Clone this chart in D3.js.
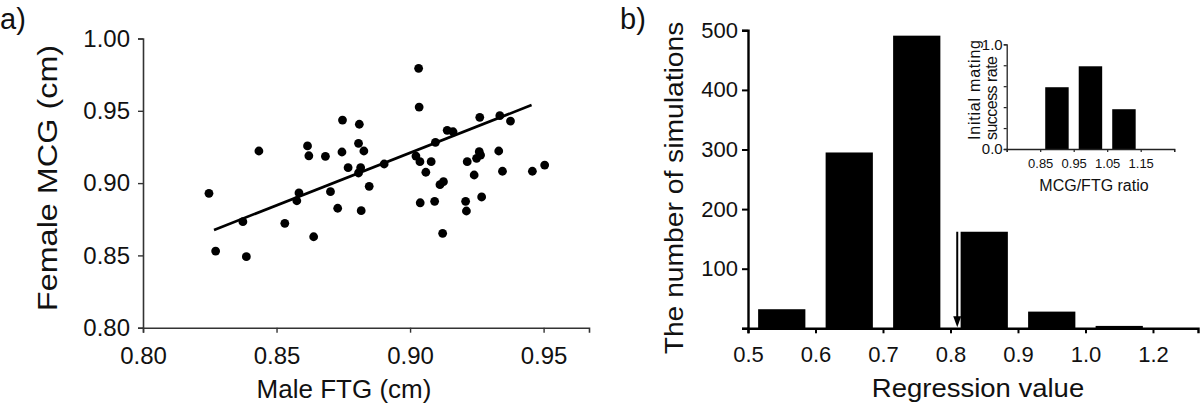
<!DOCTYPE html>
<html>
<head>
<meta charset="utf-8">
<script src="https://cdn.jsdelivr.net/npm/d3@7"></script>
<style>
  html, body { margin: 0; padding: 0; background: #fff; }
  svg { display: block; font-family: "Liberation Sans", Arial, Helvetica, sans-serif; }
</style>
</head>
<body>
<svg id="chart" width="1200" height="415"></svg>
<script>
// ---------- Panel a data: Male FTG vs Female MCG ----------
const maleFTG = [
  0.8247, 0.8272, 0.8387, 0.8434, 0.8374, 0.8531, 0.8639, 0.8616, 0.8621, 0.8584,
  0.8576, 0.8683, 0.8747, 0.8810, 0.8807, 0.8827, 0.8745, 0.8768, 0.8815, 0.8807,
  0.8903, 0.8702, 0.8847, 0.8729, 0.8817, 0.9032, 0.9034, 0.9095, 0.9139, 0.9161,
  0.9022, 0.9037, 0.9079, 0.9059, 0.9112, 0.9125, 0.9038, 0.9092, 0.9122, 0.9261,
  0.9336, 0.9376, 0.9259, 0.9264, 0.9249, 0.9214, 0.9332, 0.9240, 0.9346, 0.9458,
  0.9504, 0.9208, 0.9211, 0.9268
];
const femaleMCG = [
  0.8929, 0.8530, 0.8491, 0.9222, 0.8733, 0.8722, 0.8629, 0.9257, 0.9189, 0.8932,
  0.8878, 0.9185, 0.9436, 0.9407, 0.9275, 0.9222, 0.9215, 0.9107, 0.9107, 0.9070,
  0.9132, 0.8941, 0.8978, 0.8826, 0.8809, 0.9794, 0.9526, 0.9282, 0.9365, 0.9355,
  0.9187, 0.9148, 0.9148, 0.9075, 0.8989, 0.9010, 0.8864, 0.8874, 0.8653, 0.9455,
  0.9466, 0.9429, 0.9217, 0.9194, 0.9171, 0.9148, 0.9222, 0.9056, 0.9082, 0.9082,
  0.9125, 0.8874, 0.8807, 0.8904
];
const fitLineX = [0.8266, 0.9455];
const fitLineY = [0.8676, 0.9540];
const aXTicks = [0.80, 0.85, 0.90, 0.95];
const aYTicks = [0.80, 0.85, 0.90, 0.95, 1.00];

// ---------- Panel b data: histogram of regression values ----------
const regressionBins = [0.55, 0.65, 0.75, 0.85, 0.95, 1.05];
const simulationCounts = [32, 295, 491, 162, 28, 4];
const bXTickValues = [0.5, 0.6, 0.7, 0.8, 0.9, 1.0, 1.1];
const bXTickLabels = ["0.5", "0.6", "0.7", "0.8", "0.9", "1.0", "1.2"];
const bYTicks = [0, 100, 200, 300, 400, 500];
const observedRegression = 0.81;
const observedArrowTop = 162;

// ---------- Inset data: mating success by MCG/FTG ratio ----------
const ratioBins = [0.90, 1.00, 1.10];
const matingRates = [0.59, 0.79, 0.38];
const insetXTickValues = [0.75, 0.85, 0.95, 1.05, 1.15, 1.25];
const insetXTickLabels = ["", "0.85", "0.95", "1.05", "1.15", ""];
const insetYTicks = [0, 0.2, 0.4, 0.6, 0.8, 1.0];

const svg = d3.select("#chart");
const FONT = "'Liberation Sans', Arial, sans-serif";

// ================= Panel a =================
const xA = d3.scaleLinear().domain([0.80, 0.967]).range([143, 589]);
const yA = d3.scaleLinear().domain([0.80, 1.00]).range([327.7, 38.5]);
const gA = svg.append("g");

const axAx = gA.append("g").attr("transform", `translate(0,${yA(0.80)})`)
  .call(d3.axisBottom(xA).tickValues(aXTicks).tickFormat(d3.format(".2f")).tickSizeOuter(0).tickSize(5).tickPadding(10));
const axAy = gA.append("g").attr("transform", `translate(${xA(0.80)},0)`)
  .call(d3.axisLeft(yA).tickValues(aYTicks).tickFormat(d3.format(".2f")).tickSizeOuter(0).tickSize(5).tickPadding(8));
[axAx, axAy].forEach(g => {
  g.selectAll("path.domain").attr("stroke", "#333").attr("stroke-width", 1.6);
  g.selectAll(".tick line").attr("stroke", "#333").attr("stroke-width", 1.4);
  g.selectAll(".tick text").attr("font-size", 24).attr("fill", "#111").attr("font-family", FONT);
});
axAx.selectAll(".tick text").attr("dy", "0.9em");

gA.append("line")
  .attr("x1", xA(fitLineX[0])).attr("y1", yA(fitLineY[0]))
  .attr("x2", xA(fitLineX[1])).attr("y2", yA(fitLineY[1]))
  .attr("stroke", "#000").attr("stroke-width", 2.6);

gA.selectAll("circle.pt").data(maleFTG.map((x, i) => [x, femaleMCG[i]]))
  .join("circle").attr("class", "pt")
  .attr("cx", d => xA(d[0])).attr("cy", d => yA(d[1]))
  .attr("r", 4.4).attr("fill", "#000");

gA.append("text").attr("x", 344).attr("y", 398).attr("text-anchor", "middle")
  .attr("font-size", 26).attr("fill", "#111").text("Male FTG (cm)");
gA.append("text").attr("transform", "translate(57,178) rotate(-90) scale(1.2,1)").attr("text-anchor", "middle")
  .attr("font-size", 27).attr("fill", "#111").text("Female MCG (cm)");
gA.append("text").attr("x", 0).attr("y", 29).attr("font-size", 29).attr("fill", "#111").text("a)");

// ================= Panel b =================
const xB = d3.scaleLinear().domain([0.5, 1.1667]).range([748, 1198]);
const yB = d3.scaleLinear().domain([0, 500]).range([328.3, 30.3]);
const gB = svg.append("g");
const binW = 0.07;

gB.selectAll("rect.bar").data(regressionBins.map((b, i) => [b, simulationCounts[i]]))
  .join("rect").attr("class", "bar")
  .attr("x", d => xB(d[0] - binW / 2))
  .attr("width", d => xB(d[0] + binW / 2) - xB(d[0] - binW / 2))
  .attr("y", d => yB(d[1]))
  .attr("height", d => yB(0) - yB(d[1]))
  .attr("fill", "#000");

const bxAx = gB.append("g").attr("transform", `translate(0,${yB(0)})`)
  .call(d3.axisBottom(xB).tickValues(bXTickValues)
    .tickFormat((d, i) => bXTickLabels[i]).tickSizeOuter(0).tickSize(5).tickPadding(9));
const byAx = gB.append("g").attr("transform", `translate(${xB(0.5)},0)`)
  .call(d3.axisLeft(yB).tickValues(bYTicks).tickFormat(d => d === 0 ? "" : d)
    .tickSizeOuter(0).tickSize(6).tickPadding(4));
[bxAx, byAx].forEach(g => {
  g.selectAll("path.domain").attr("stroke", "#000").attr("stroke-width", 2.4);
  g.selectAll(".tick line").attr("stroke", "#000").attr("stroke-width", 2);
  g.selectAll(".tick text").attr("font-size", 22).attr("fill", "#111").attr("font-family", FONT);
});
bxAx.selectAll(".tick text").attr("dy", "0.9em");

// observed-value arrow
const ax = xB(observedRegression);
gB.append("line").attr("x1", ax).attr("x2", ax)
  .attr("y1", yB(observedArrowTop)).attr("y2", yB(0) - 8)
  .attr("stroke", "#000").attr("stroke-width", 2);
gB.append("path")
  .attr("d", `M${ax - 4},${yB(0) - 12} L${ax + 4},${yB(0) - 12} L${ax},${yB(0) - 1} Z`)
  .attr("fill", "#000");

gB.append("text").attr("transform", "translate(978,397) scale(1.1,1)").attr("text-anchor", "middle")
  .attr("font-size", 25).attr("fill", "#111").text("Regression value");
gB.append("text").attr("transform", "translate(683,188) rotate(-90) scale(1.13,1)").attr("text-anchor", "middle")
  .attr("font-size", 25).attr("fill", "#111").text("The number of simulations");
gB.append("text").attr("x", 620).attr("y", 29).attr("font-size", 29).attr("fill", "#111").text("b)");

// ================= Inset =================
const xI = d3.scaleLinear().domain([0.75, 1.25]).range([1006.7, 1174.2]);
const yI = d3.scaleLinear().domain([0, 1]).range([149, 44.3]);
const gI = svg.append("g");
const iW = 0.07;

gI.selectAll("rect.ibar").data(ratioBins.map((b, i) => [b, matingRates[i]]))
  .join("rect").attr("class", "ibar")
  .attr("x", d => xI(d[0] - iW / 2))
  .attr("width", d => xI(d[0] + iW / 2) - xI(d[0] - iW / 2))
  .attr("y", d => yI(d[1]))
  .attr("height", d => yI(0) - yI(d[1]))
  .attr("fill", "#000");

const ixAx = gI.append("g").attr("transform", `translate(0,${yI(0)})`)
  .call(d3.axisBottom(xI).tickValues(insetXTickValues)
    .tickFormat((d, i) => insetXTickLabels[i]).tickSizeOuter(0).tickSize(3).tickPadding(6));
const iyAx = gI.append("g").attr("transform", `translate(${xI(0.75)},0)`)
  .call(d3.axisLeft(yI).tickValues(insetYTicks).tickFormat(d => (d === 0 || d === 1) ? d.toFixed(1) : "")
    .tickSizeOuter(0).tickSize(3).tickPadding(1));
[ixAx, iyAx].forEach(g => {
  g.selectAll("path.domain").attr("stroke", "#222").attr("stroke-width", 1.3);
  g.selectAll(".tick line").attr("stroke", "#222").attr("stroke-width", 1.2);
  g.selectAll(".tick text").attr("fill", "#111").attr("font-family", FONT);
});
ixAx.selectAll(".tick text").attr("font-size", 13).attr("dy", "0.8em");
iyAx.selectAll(".tick text").attr("font-size", 15);

gI.append("text").attr("x", 1094).attr("y", 191).attr("text-anchor", "middle")
  .attr("font-size", 16).attr("fill", "#111").text("MCG/FTG ratio");
const iyt = gI.append("text").attr("transform", "translate(980,140) rotate(-90)")
  .attr("text-anchor", "start").attr("font-size", 16).attr("fill", "#111");
iyt.append("tspan").attr("x", 0).attr("dy", 0).attr("textLength", 100).text("Initial mating");
iyt.append("tspan").attr("x", 0).attr("dy", 16.5).attr("textLength", 84).text("success rate");
</script>
</body>
</html>
